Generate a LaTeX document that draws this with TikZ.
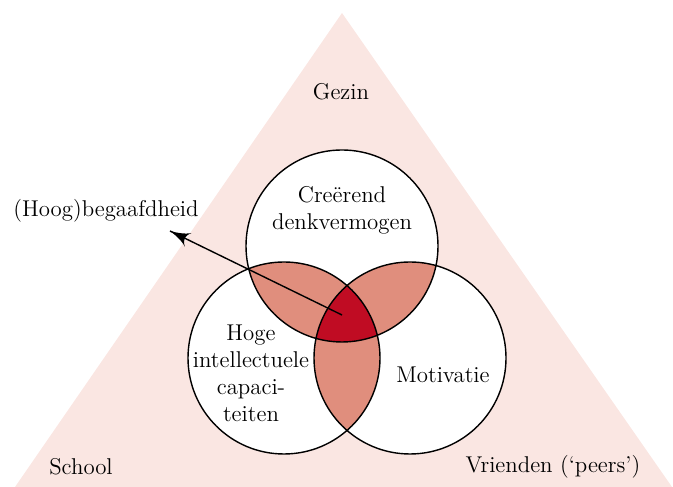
\documentclass[tikz,border=0pt]{standalone}
\usepackage{tikz}
\usetikzlibrary{arrows}
\usetikzlibrary{decorations.markings}
\tikzset{pointer/.style = {decoration={markings,
                                       mark=at position 1 with {\arrow[scale=2.2]{latex'}}},
                           postaction={decorate}}}
\tikzset{ring/.style = {draw, line width = 0.8pt}}
\tikzset{lbl/.style = {align = center, inner sep = 0, font = \fontsize{13}{15.3}\selectfont}}
\definecolor{mpink}{RGB}{250, 230, 226}
\definecolor{msalmon}{RGB}{224, 142, 125}
\definecolor{mred}{RGB}{192, 12, 35}

\begin{document}
\begin{tikzpicture}
      \useasboundingbox (0, 0) rectangle (13.46, 9.74);
      \fill [mpink] (0.30, 0) -- (6.84, 9.48) -- (13.44, 0) -- cycle;
      \coordinate (top) at (6.84, 4.82);
      \coordinate (left) at (5.68, 2.58);
      \coordinate (right) at (8.20, 2.58);
      \fill [white] (top) circle (1.92) (left) circle (1.92) (right) circle (1.92);
      \begin{scope}
        \clip (top) circle (1.92);
        \fill [msalmon] (left) circle (1.92) (right) circle (1.92);
      \end{scope}
      \begin{scope}
        \clip (left) circle (1.92);
        \fill [msalmon] (right) circle (1.92);
      \end{scope}
      \begin{scope}
        \clip (top) circle (1.92);
        \clip (left) circle (1.92);
        \fill [mred] (right) circle (1.92);
      \end{scope}
      \draw [ring] (top) circle (1.92) (left) circle (1.92) (right) circle (1.92);
      \node [lbl] (gezin) at (6.82, 7.90) {Gezin};
      \node [lbl] (school) at (1.62, 0.40) {School};
      \node [lbl] (vrienden) at (11.06, 0.40) {Vrienden (`peers')};
      \node [lbl] (creatief) at (6.84, 5.54) {Creërend\\denkvermogen};
      \node [lbl] (intellect) at (5.02, 2.28) {Hoge\\intellectuele\\capaci-\\teiten};
      \node [lbl] (motivatie) at (8.86, 2.24) {Motivatie};
      \node [lbl] (begaafd) at (2.12, 5.52) {(Hoog)begaafdheid};
      \coordinate (core) at (6.84, 3.44);
      \coordinate (tip) at (3.40, 5.12);
      \draw [pointer, line width = 0.8pt] (core) -- (tip);
    \end{tikzpicture}
\end{document}
